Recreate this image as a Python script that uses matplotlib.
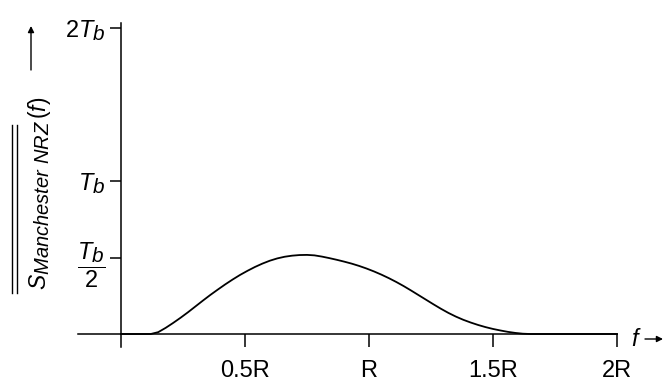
import numpy as np
import matplotlib
matplotlib.use("Agg")
import matplotlib.pyplot as plt
from matplotlib.lines import Line2D
import matplotlib._mathtext as mathtext_internal

# subscripts in the source figure are almost full size
mathtext_internal.SHRINK_FACTOR = 0.88

plt.rcParams['font.family'] = ['Liberation Sans', 'DejaVu Sans']
plt.rcParams['mathtext.fontset'] = 'custom'
plt.rcParams['mathtext.rm'] = 'Liberation Sans'
plt.rcParams['mathtext.it'] = 'Liberation Sans:italic'
plt.rcParams['mathtext.bf'] = 'Liberation Sans:bold'

# frequency in units of R, PSD in units of T_b
freq = [0.0, 0.12, 0.15, 0.18, 0.21, 0.24, 0.27, 0.30, 0.33, 0.36, 0.39,
        0.42, 0.45, 0.48, 0.51, 0.54, 0.57, 0.60, 0.63, 0.66, 0.69, 0.72,
        0.75, 0.78, 0.81, 0.84, 0.87, 0.90, 0.93, 0.96, 0.99, 1.02, 1.05,
        1.08, 1.11, 1.14, 1.17, 1.20, 1.23, 1.26, 1.29, 1.32, 1.35, 1.38,
        1.41, 1.44, 1.47, 1.50, 1.53, 1.56, 1.59, 1.62, 1.65, 2.0]
psd = [0.0, 0.0, 0.012, 0.040, 0.072, 0.106, 0.142, 0.180, 0.218, 0.255, 0.290,
       0.324, 0.356, 0.386, 0.413, 0.438, 0.460, 0.479, 0.494, 0.505, 0.512, 0.516,
       0.517, 0.514, 0.506, 0.496, 0.485, 0.473, 0.460, 0.445, 0.428, 0.409, 0.388,
       0.365, 0.340, 0.313, 0.284, 0.254, 0.224, 0.194, 0.165, 0.138, 0.114, 0.093,
       0.075, 0.059, 0.045, 0.033, 0.023, 0.014, 0.007, 0.002, 0.0, 0.0]

xticks = [0.5, 1.0, 1.5, 2.0]
xlabels = ['0.5R', 'R', '1.5R', '2R']
yticks = [0.5, 1.0, 2.0]
ylabels = [r'$\dfrac{T_b}{2}$', r'$T_b$', r'$2T_b$']

W, H = 668, 385
fig = plt.figure(figsize=(W / 100, H / 100), dpi=100)
ax = fig.add_axes([0, 0, 1, 1])
ax.patch.set_alpha(0)

# pixel mapping of the original: x=0 at 121px, 248px per R; y=0 at 334px, 153px per Tb
x0, sx = 121, 248
y0, sy = 334, 153
ax.set_xlim(-x0 / sx, (W - x0) / sx)
ax.set_ylim(-(H - y0) / sy, y0 / sy)

ax.plot(freq, psd, color='black', lw=1.3, solid_joinstyle='round')

for s in ['top', 'right']:
    ax.spines[s].set_visible(False)
ax.spines['left'].set_position(('data', 0))
ax.spines['bottom'].set_position(('data', 0))
ax.spines['left'].set_bounds(-(347 - y0) / sy, (y0 - 23) / sy)
ax.spines['bottom'].set_bounds(-(x0 - 78) / sx, 2.0)
for s in ['left', 'bottom']:
    ax.spines[s].set_linewidth(1.1)

ax.set_xticks(xticks, xlabels)
ax.set_yticks(yticks, ylabels)
ax.tick_params(axis='x', direction='out', length=9, width=1.1, pad=10, labelsize=17)
ax.tick_params(axis='y', direction='out', length=8, width=1.1, pad=3, labelsize=17)

# rotated y label with double overline and arrow
fig.text(40 / W, 1 - 193 / H, r'$S_{Manchester\ NRZ}\,(f)$', rotation=90,
         ha='center', va='center', fontsize=16.5)
for xb in [12, 17]:
    fig.add_artist(Line2D([xb / W, xb / W], [1 - 125 / H, 1 - 293 / H],
                          transform=fig.transFigure, color='black', lw=1.0))
fig.add_artist(plt.Annotation('', xy=(31 / W, 1 - 26 / H), xytext=(31 / W, 1 - 70 / H),
                              xycoords='figure fraction', textcoords='figure fraction',
                              arrowprops=dict(arrowstyle='-|>', color='black', lw=1.0,
                                              mutation_scale=9, shrinkA=0, shrinkB=0)))

# f -> label at the end of the x axis
fig.text(636 / W, 1 - 340 / H, r'$f$', ha='center', va='center', fontsize=17)
fig.add_artist(plt.Annotation('', xy=(663 / W, 1 - 339 / H), xytext=(645 / W, 1 - 339 / H),
                              xycoords='figure fraction', textcoords='figure fraction',
                              arrowprops=dict(arrowstyle='-|>', color='black', lw=1.0,
                                              mutation_scale=9, shrinkA=0, shrinkB=0)))

fig.savefig('out.png', dpi=100, facecolor='white')
